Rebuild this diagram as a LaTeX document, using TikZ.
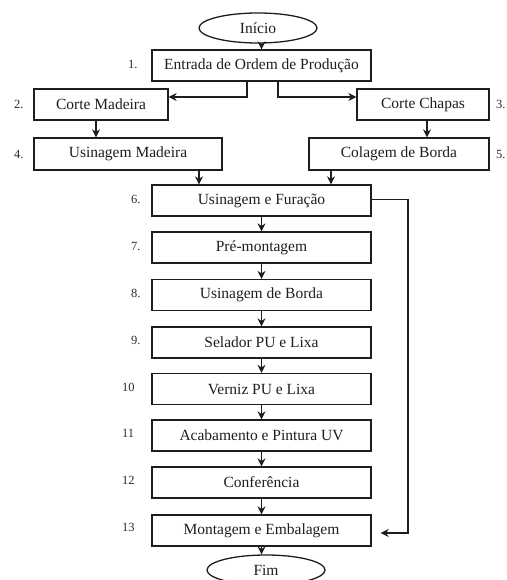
\documentclass[tikz,border=0pt]{standalone}
\usepackage{fontspec}
\setmainfont{Liberation Serif}
\usetikzlibrary{shapes.geometric,arrows.meta}
\definecolor{ink}{HTML}{1E1E1E}
\definecolor{numc}{HTML}{3A2A1A}
\tikzset{
  box/.style={draw=ink,line width=1.3pt,minimum height=31pt,inner sep=0pt,font=\fontsize{15.5}{15.5}\selectfont,text=ink},
  oval/.style={ellipse,draw=ink,line width=1.3pt,minimum width=118pt,minimum height=30pt,inner sep=0pt,font=\fontsize{15.5}{15.5}\selectfont,text=ink},
  arr/.style={draw=ink,line width=1.2pt,-{Stealth[length=8pt,width=8pt]}},
  num/.style={font=\fontsize{12.5}{12.5}\selectfont,text=numc,anchor=west,inner sep=0pt}
}
\begin{document}
\begin{tikzpicture}[x=1pt,y=-1pt]
\useasboundingbox (0,0) rectangle (506,580);
\clip (0,0) rectangle (506,580);
\fill[white] (0,0) rectangle (506,580);
% nodes
\node[oval] (ini) at (258,28) {Início};
\node[box,minimum width=219pt] (b1) at (261.5,65.5) {Entrada de Ordem de Produção};
\node[box,minimum width=134pt] (cm) at (101,104.5) {Corte Madeira};
\node[box,minimum width=132pt] (cc) at (423,104.5) {Corte Chapas};
\node[box,minimum width=188pt,minimum height=32pt] (um) at (128,154) {Usinagem Madeira};
\node[box,minimum width=180pt,minimum height=32pt] (cb) at (399,154) {Colagem de Borda};
\node[box,minimum width=219pt] (b6) at (261.5,200.5) {Usinagem e Furação};
\node[box,minimum width=219pt] (b7) at (261.5,247.5) {Pré-montagem};
\node[box,minimum width=219pt] (b8) at (261.5,295) {Usinagem de Borda};
\node[box,minimum width=219pt] (b9) at (261.5,342.5) {Selador PU e Lixa};
\node[box,minimum width=219pt] (b10) at (261.5,389) {Verniz PU e Lixa};
\node[box,minimum width=219pt] (b11) at (261.5,435.5) {Acabamento e Pintura UV};
\node[box,minimum width=219pt] (b12) at (261.5,482.5) {Conferência};
\node[box,minimum width=219pt] (b13) at (261.5,530.5) {Montagem e Embalagem};
\node[oval] (fim) at (266,570) {Fim};
% numbers
\node[num] (n1) at (128,64) {1.};
\node[num] (n2) at (14,104) {2.};
\node[num] (n3) at (496,104) {3.};
\node[num] (n4) at (14,154) {4.};
\node[num] (n5) at (496,154) {5.};
\node[num] (n6) at (131,199) {6.};
\node[num] (n7) at (131,246) {7.};
\node[num] (n8) at (131,293) {8.};
\node[num] (n9) at (131,340) {9.};
\node[num] (n10) at (122,387) {10};
\node[num] (n11) at (122,433) {11};
\node[num] (n12) at (122,480) {12};
\node[num] (n13) at (122,527) {13};
% connectors
\draw[arr] (ini.south -| b1.north) -- (b1.north);
\draw[arr] ([xshift=-14.5pt]b1.south) |- ([yshift=7.5pt]cm.east);
\draw[arr] ([xshift=16.5pt]b1.south) |- ([yshift=7.5pt]cc.west);
\draw[arr] ([xshift=-5pt]cm.south) -- ([xshift=-5pt]cm.south |- um.north);
\draw[arr] ([xshift=4pt]cc.south) -- ([xshift=4pt]cc.south |- cb.north);
\draw[arr] ([xshift=71pt]um.south) -- ([xshift=71pt]um.south |- b6.north);
\draw[arr] ([xshift=-68pt]cb.south) -- ([xshift=-68pt]cb.south |- b6.north);
\draw[arr] (b6) -- (b7);
\draw[arr] (b7) -- (b8);
\draw[arr] (b8) -- (b9);
\draw[arr] (b9) -- (b10);
\draw[arr] (b10) -- (b11);
\draw[arr] (b11) -- (b12);
\draw[arr] (b12) -- (b13);
\draw[arr] (b13.south) -- (b13.south |- fim.north);
\coordinate (loop) at (408,200);
\draw[arr] ([yshift=1pt]b6.east) -| (loop) |- ([xshift=9pt,yshift=-2.5pt]b13.east);
\end{tikzpicture}
\end{document}
